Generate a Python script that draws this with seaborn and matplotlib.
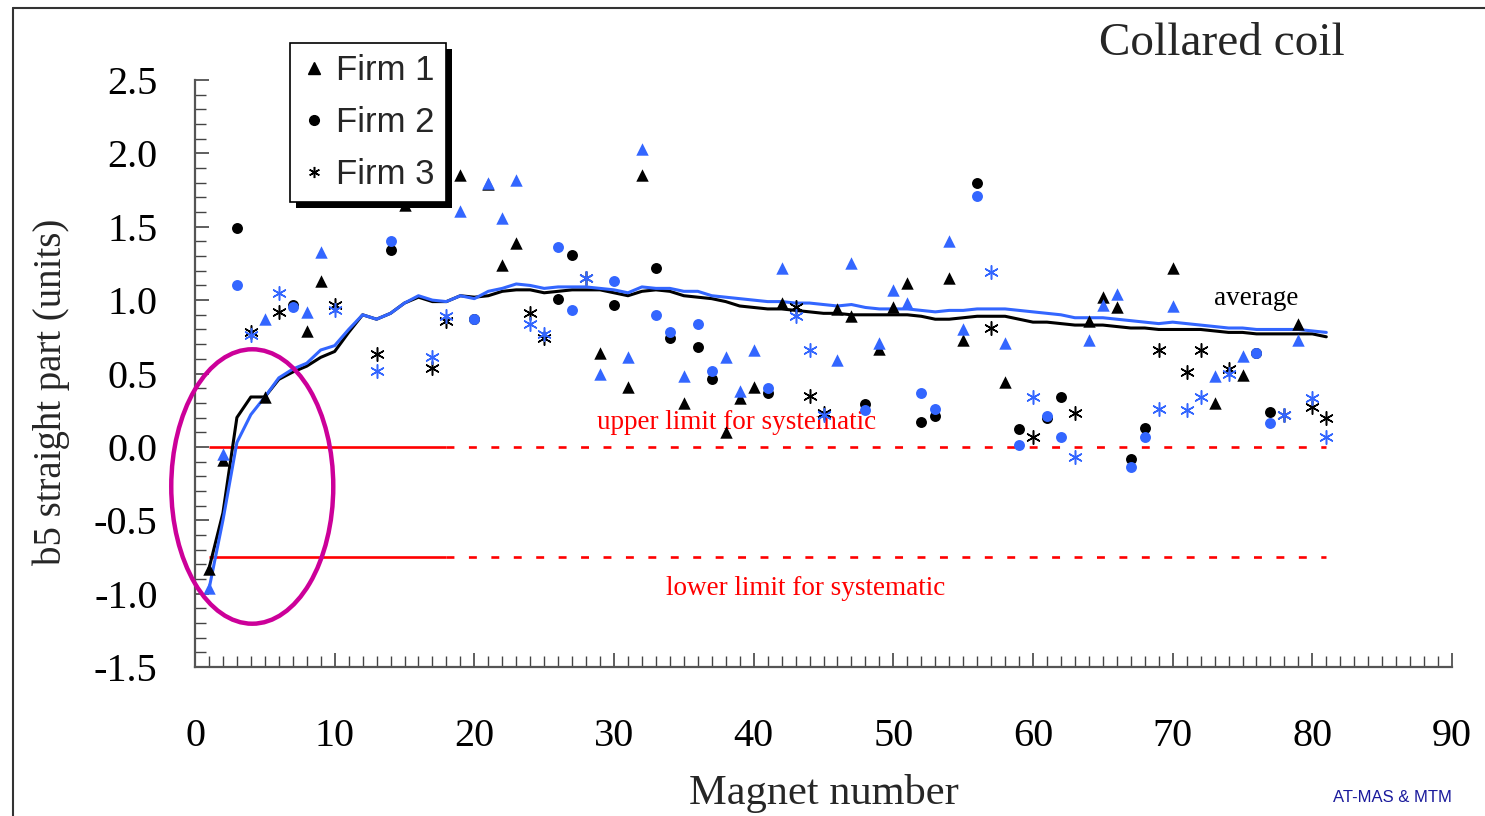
import numpy as np
import pandas as pd
import matplotlib
matplotlib.use("Agg")
import matplotlib.pyplot as plt
import seaborn as sns
from matplotlib.patches import Ellipse, Rectangle
from matplotlib.lines import Line2D
from matplotlib.ticker import MultipleLocator

# ---------------- data ----------------
firm1_magnets = [1, 2, 5, 8, 9, 15, 19, 21, 22, 23, 29, 31, 32, 35, 38, 39, 40, 42, 46, 47,
                 49, 50, 51, 54, 55, 58, 64, 65, 66, 70, 73, 75, 79]
firm1_black = [-0.83, -0.09, 0.34, 0.79, 1.13, 1.65, 1.85, 1.79, 1.24, 1.39, 0.64, 0.41, 1.85,
               0.30, 0.10, 0.33, 0.41, 0.98, 0.94, 0.89, 0.67, 0.95, 1.12, 1.15, 0.73, 0.44,
               0.86, 1.02, 0.95, 1.22, 0.30, 0.49, 0.84]
firm1_blue = [-0.96, -0.05, 0.87, 0.92, 1.33, np.nan, 1.61, 1.80, 1.56, 1.82, 0.50, 0.61, 2.03,
              0.48, 0.61, 0.38, 0.66, 1.22, 0.59, 1.25, 0.71, 1.07, 0.98, 1.40, 0.80, 0.71,
              0.73, 0.97, 1.04, 0.96, 0.48, 0.62, 0.73]

firm2_magnets = [3, 7, 14, 20, 26, 27, 30, 33, 34, 36, 37, 41, 48, 52, 53, 56, 59, 61, 62, 67,
                 68, 76, 77]
firm2_black = [1.49, 0.97, 1.34, 0.87, 1.01, 1.31, 0.97, 1.22, 0.74, 0.68, 0.46, 0.37, 0.29,
               0.17, 0.21, 1.80, 0.12, 0.20, 0.34, -0.08, 0.13, 0.64, 0.24]
firm2_blue = [1.10, 0.95, 1.40, 0.87, 1.36, 0.93, 1.13, 0.90, 0.78, 0.84, 0.52, 0.40, 0.25,
              0.37, 0.26, 1.71, 0.01, 0.21, 0.07, -0.14, 0.07, 0.64, 0.16]

firm3_magnets = [4, 6, 10, 13, 17, 18, 24, 25, 28, 43, 44, 45, 57, 60, 63, 69, 71, 72, 74, 78,
                 80, 81]
firm3_black = [0.78, 0.92, 0.97, 0.63, 0.54, 0.86, 0.91, 0.74, 1.15, 0.95, 0.35, 0.23, 0.81,
               0.07, 0.23, 0.66, 0.51, 0.66, 0.53, 0.22, 0.27, 0.20]
firm3_blue = [0.76, 1.05, 0.93, 0.52, 0.61, 0.89, 0.84, 0.77, 1.15, 0.89, 0.66, 0.22, 1.19,
              0.34, -0.07, 0.26, 0.25, 0.34, 0.50, 0.22, 0.33, 0.07]

avg_magnets = list(range(1, 82))
avg_black = [-0.83, -0.45, 0.20, 0.34, 0.34, 0.46, 0.51, 0.55, 0.61, 0.65,
             0.78, 0.90, 0.87, 0.91, 0.98, 1.02, 0.99, 0.99, 1.03, 1.02,
             1.03, 1.06, 1.07, 1.07, 1.05, 1.06, 1.07, 1.07, 1.07, 1.05,
             1.03, 1.06, 1.07, 1.06, 1.03, 1.02, 1.01, 0.99, 0.96, 0.95,
             0.94, 0.94, 0.93, 0.92, 0.91, 0.91, 0.90, 0.90, 0.90, 0.90,
             0.90, 0.89, 0.87, 0.87, 0.88, 0.89, 0.89, 0.89, 0.87, 0.85,
             0.85, 0.84, 0.83, 0.83, 0.83, 0.82, 0.81, 0.81, 0.80, 0.80,
             0.80, 0.80, 0.79, 0.78, 0.78, 0.77, 0.77, 0.77, 0.77, 0.77, 0.75]
avg_blue = [-0.97, -0.50, 0.03, 0.22, 0.34, 0.47, 0.53, 0.57, 0.66, 0.69,
            0.80, 0.90, 0.87, 0.91, 0.98, 1.03, 1.00, 0.99, 1.03, 1.01,
            1.06, 1.08, 1.11, 1.10, 1.08, 1.09, 1.09, 1.09, 1.08, 1.07,
            1.05, 1.09, 1.08, 1.08, 1.06, 1.06, 1.03, 1.02, 1.01, 1.00,
            0.99, 0.99, 0.98, 0.98, 0.97, 0.96, 0.97, 0.95, 0.94, 0.94,
            0.94, 0.93, 0.92, 0.93, 0.93, 0.94, 0.94, 0.94, 0.93, 0.92,
            0.91, 0.90, 0.88, 0.88, 0.88, 0.87, 0.86, 0.85, 0.84, 0.85,
            0.84, 0.83, 0.82, 0.81, 0.81, 0.80, 0.80, 0.80, 0.80, 0.79, 0.78]

limit_solid_x = [1, 18]
limit_dash_x = [18, 81]
upper_limit = 0.0
lower_limit = -0.75

x_ticks = [0, 10, 20, 30, 40, 50, 60, 70, 80, 90]
y_ticks = [-1.5, -1.0, -0.5, 0.0, 0.5, 1.0, 1.5, 2.0, 2.5]
firm_labels = ["Firm 1", "Firm 2", "Firm 3"]

# ---------------- frames ----------------
rows = []
for firm, mags, blk, blu in [("Firm 1", firm1_magnets, firm1_black, firm1_blue),
                             ("Firm 2", firm2_magnets, firm2_black, firm2_blue),
                             ("Firm 3", firm3_magnets, firm3_black, firm3_blue)]:
    for m, vb, vl in zip(mags, blk, blu):
        rows.append((firm, m, "black", vb))
        rows.append((firm, m, "blue", vl))
pts = pd.DataFrame(rows, columns=["firm", "magnet", "set", "b5"]).dropna()

avg_df = pd.DataFrame({
    "magnet": avg_magnets * 2,
    "b5": avg_black + avg_blue,
    "set": ["black"] * len(avg_magnets) + ["blue"] * len(avg_magnets),
})

# ---------------- style ----------------
sns.set_theme(style="white")
plt.rcParams["font.family"] = ["Liberation Serif", "DejaVu Serif"]
BLUE = "#3366FF"
RED = "#FF0000"
MAGENTA = "#CC0099"
SPINE = "#555555"
colors = {"black": "black", "blue": BLUE}

W, H = 1485, 816
fig = plt.figure(figsize=(W / 100, H / 100), dpi=100)
ax = fig.add_axes([195 / W, (H - 667) / H, 1257 / W, 587 / H])
ax.set_facecolor("white")

# average lines
sns.lineplot(data=avg_df, x="magnet", y="b5", hue="set", hue_order=["black", "blue"],
             palette=colors, estimator=None, errorbar=None, linewidth=2.2,
             legend=False, ax=ax, zorder=2)

# limit lines
for lim in (upper_limit, lower_limit):
    ax.plot(limit_solid_x, [lim, lim], color=RED, lw=1.9, zorder=1.5, solid_capstyle="butt")
    ax.plot(limit_dash_x, [lim, lim], color=RED, lw=1.9, zorder=1.5,
            dashes=(3.0, 5.5), dash_capstyle="butt")

# markers
marker_spec = {"Firm 1": ("^", 80), "Firm 2": ("o", 62), "Firm 3": ((6, 2, 0), 95)}
for s in ["black", "blue"]:
    for firm in firm_labels:
        mk, size = marker_spec[firm]
        sub = pts[(pts.firm == firm) & (pts.set == s)]
        if firm == "Firm 3":
            sns.scatterplot(data=sub, x="magnet", y="b5", marker=mk, s=size,
                            color=colors[s], linewidth=1.1, ax=ax, zorder=4, legend=False)
        else:
            sns.scatterplot(data=sub, x="magnet", y="b5", marker=mk, s=size,
                            color=colors[s], edgecolor=colors[s], linewidth=0,
                            ax=ax, zorder=4, legend=False)

# ellipse
ax.add_patch(Ellipse((4.1, -0.27), 11.6, 1.87, fill=False, edgecolor=MAGENTA,
                     lw=3.2, zorder=5, clip_on=False))

# axes styling
ax.set_xlim(0, 90)
ax.set_ylim(-1.5, 2.5)
ax.set_xticks(x_ticks)
ax.set_xticklabels([str(t) for t in x_ticks])
ax.set_yticks(y_ticks)
ax.set_yticklabels([f"{t:.1f}" for t in y_ticks])
ax.xaxis.set_minor_locator(MultipleLocator(1))
ax.yaxis.set_minor_locator(MultipleLocator(0.1))
for side in ["top", "right"]:
    ax.spines[side].set_visible(False)
for side in ["left", "bottom"]:
    ax.spines[side].set_color(SPINE)
    ax.spines[side].set_linewidth(1.6)
ax.tick_params(axis="both", which="major", direction="in", length=10, width=1.1,
               color="#333333", labelsize=29, labelcolor="black")
ax.tick_params(axis="both", which="minor", direction="in", length=8, width=1.0,
               color="#444444")
ax.tick_params(axis="y", which="major", pad=27, left=True)
ax.tick_params(axis="y", which="minor", left=True)
ax.tick_params(axis="x", which="major", pad=37, bottom=True)
ax.tick_params(axis="x", which="minor", bottom=True)

ax.set_xlabel("Magnet number", fontsize=30.5, va="baseline")
ax.xaxis.set_label_coords(0.5, (667 - 804) / 587)
ax.set_ylabel("b5 straight part (units)", fontsize=28)
ax.yaxis.set_label_coords((70 - 195) / 1257, (667 - 392) / 587)

# annotations
ax.text(76, 0.965, "average", fontsize=19.5, ha="center", va="baseline", color="black")
ax.text(38.8, 0.12, "upper limit for systematic", fontsize=19.5, ha="center",
        va="baseline", color=RED)
ax.text(43.7, -1.01, "lower limit for systematic", fontsize=19.5, ha="center",
        va="baseline", color=RED)
fig.text(1345 / W, 1 - 55 / H, "Collared coil", fontsize=34, ha="right", va="baseline")
fig.text(1452 / W, 1 - 802 / H, "AT-MAS & MTM", fontsize=12, ha="right", va="baseline",
         color="#1a1a9c", family=["Liberation Sans", "DejaVu Sans"])

# legend
handles = [Line2D([], [], ls="", marker="^", color="black", ms=8),
           Line2D([], [], ls="", marker="o", color="black", ms=7),
           Line2D([], [], ls="", marker=(6, 2, 0), color="black", ms=8, mew=1.1)]
leg = fig.legend(handles, firm_labels, loc="upper left",
                 bbox_to_anchor=(290 / W, 1 - 43 / H), borderaxespad=0,
                 prop={"family": ["Liberation Sans", "DejaVu Sans"], "size": 25},
                 frameon=True, fancybox=False, framealpha=1, edgecolor="black",
                 handlelength=0.7, handletextpad=0.3, labelspacing=0.54,
                 borderpad=0.33)
leg.get_frame().set_linewidth(1.2)
leg.set_zorder(6)

fig.canvas.draw()
bb = leg.get_window_extent()
fig.add_artist(Rectangle((bb.x0 + 6, bb.y0 - 6), bb.width, bb.height,
                         transform=None, facecolor="black", edgecolor="none", zorder=5.5))

# figure border (left and top)
fig.add_artist(Line2D([13 / W, 13 / W], [0, 1 - 8 / H], transform=fig.transFigure,
                      color="#333333", lw=1.5))
fig.add_artist(Line2D([13 / W, 1], [1 - 8 / H, 1 - 8 / H], transform=fig.transFigure,
                      color="#333333", lw=1.5))

fig.savefig("out.png", dpi=100, facecolor="white")
